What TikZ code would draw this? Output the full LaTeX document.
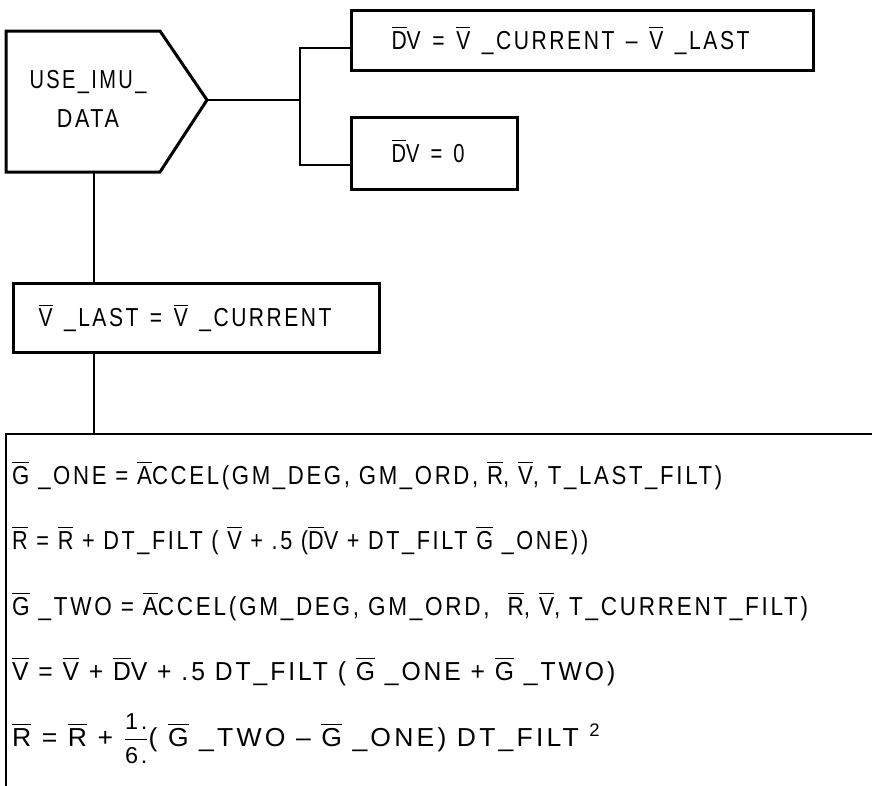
\documentclass[tikz,border=0pt]{standalone}
\usepackage{fontspec}
\setmainfont{Liberation Sans}[LetterSpace=12]
\usepackage{amsmath}
\usepackage{graphicx}
\usetikzlibrary{positioning}
\newcommand{\ov}[1]{$\overline{\mbox{#1}}$}
\newcommand{\fw}[2]{\resizebox{#1pt}{\height}{#2}}
\newcommand{\sm}[1]{\mbox{\fontsize{23}{23}\selectfont #1}}
\newcommand{\ws}{\hspace{0.55em}}
\tikzset{
  every node/.style={font=\fontsize{26}{39}\selectfont, inner sep=0pt},
  box/.style={draw, line width=3pt, anchor=west, align=left,
    text height=18.6pt, text depth=0pt},
  link/.style={line width=2.8pt},
  eqline/.style={anchor=base west},
}

\begin{document}
\begin{tikzpicture}[x=1pt,y=-1pt]
\useasboundingbox (0,0) rectangle (872,785);
% decision block
\draw[link, line width=3pt] (6,31) -- (160,31) -- (207,100) -- (160,172) -- (6,172) -- cycle;
\node[align=center, anchor=north] (use) at (88,70) {\fw{117}{USE\_IMU\_}\\\fw{62}{DATA}};
\coordinate (tip) at (207,100);
\coordinate (fork) at (300,100);
\coordinate (pb) at (94,172);

% branches
\node[box, minimum height=60pt, inner xsep=40pt, text width=382pt] (dvl) at (350,40)
  {\fw{358}{\ov{D}V\ws=\ws\ov{V}\ws\_CURRENT\ws\textendash\ws\ov{V}\ws\_LAST}};
\node[box, minimum height=72pt, inner xsep=40pt, text width=86pt] (dvz) at (350,153)
  {\fw{73}{\ov{D}V\ws=\ws0}};
\draw[link] (tip) -- (fork);
\draw[link] (fork) |- (dvl.west |- 0,48);
\draw[link] (fork) |- (dvz.west |- 0,165);

% update
\node[box, minimum height=69pt, inner xsep=25pt, text width=316pt] (vlast) at (12,317.5)
  {\fw{293}{\ov{V}\ws\_LAST\ws=\ws\ov{V}\ws\_CURRENT}};
\draw[link] (pb) -- (pb |- vlast.north);

% integration block
\coordinate (corner) at (6,434);
\coordinate (rend) at (874,434);
\coordinate (bend) at (6,787);
\draw[link] (rend) -- (corner) -- (bend);
\draw[link] (pb |- vlast.south) -- (pb |- corner);

\node[eqline] (gone) at (12,484)
  {\fw{710}{\ov{G} \_ONE = \ov{A}CCEL(GM\_DEG, GM\_ORD, \ov{R}, \ov{V}, T\_LAST\_FILT)}};
\node[eqline] (rone) at (12,549)
  {\fw{576}{\ov{R} = \ov{R} + DT\_FILT ( \ov{V} + .5 (\ov{D}V + DT\_FILT \ov{G} \_ONE))}};
\node[eqline] (gtwo) at (12,615)
  {\fw{796}{\ov{G} \_TWO = \ov{A}CCEL(GM\_DEG, GM\_ORD,\ \ \ov{R}, \ov{V}, T\_CURRENT\_FILT)}};
\node[eqline] (vnew) at (12,680)
  {\fw{603}{\ov{V} = \ov{V} + \ov{D}V + .5 DT\_FILT ( \ov{G} \_ONE + \ov{G} \_TWO)}};
\node[eqline] (rnew) at (12,746)
  {\fw{588}{\ov{R} = \ov{R} + $\dfrac{\sm{1.}}{\sm{6.}}$( \ov{G} \_TWO \textendash{} \ov{G} \_ONE) DT\_FILT \textsuperscript{2}}};
\end{tikzpicture}
\end{document}
